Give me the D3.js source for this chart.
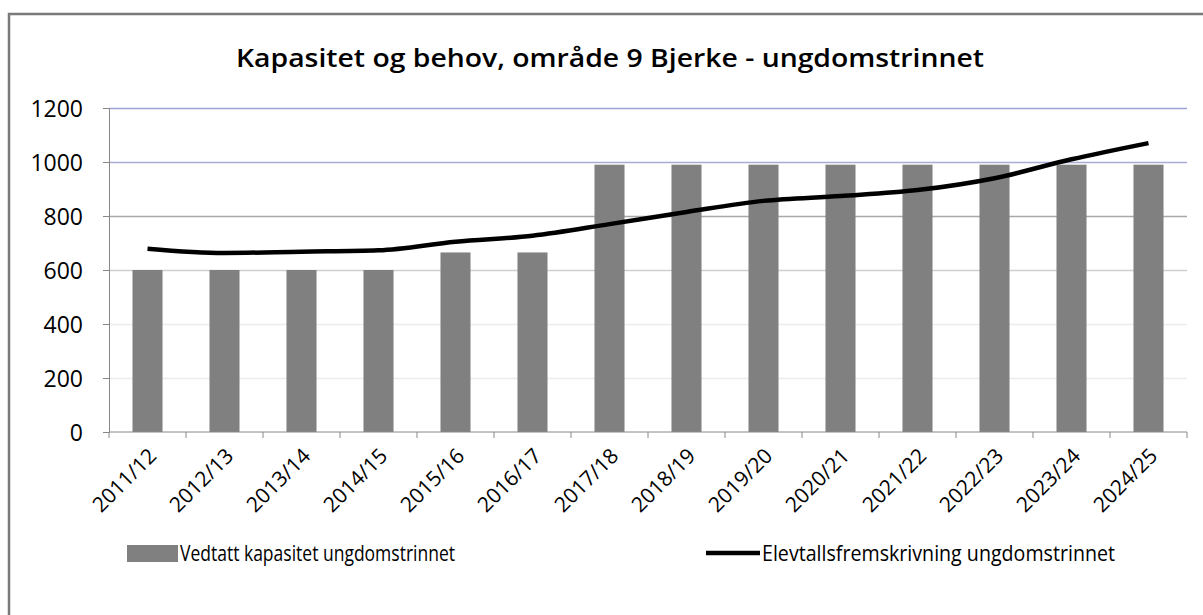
<!DOCTYPE html>
<html>
<head>
<meta charset="utf-8">
<script src="https://cdn.jsdelivr.net/npm/d3@7"></script>
<style>
  body { margin: 0; background: #fff; }
  text { font-family: "Open Sans", sans-serif; fill: #000; }
</style>
</head>
<body>
<svg id="chart"></svg>
<script>
const WIDTH = 1203;
const HEIGHT = 615;
const margin = {top: 108, right: 16, bottom: 183, left: 109};

const years = ['2011/12', '2012/13', '2013/14', '2014/15', '2015/16', '2016/17', '2017/18',
  '2018/19', '2019/20', '2020/21', '2021/22', '2022/23', '2023/24', '2024/25'];
const capacity = [600, 600, 600, 600, 665, 665, 990, 990, 990, 990, 990, 990, 990, 990];
const forecast = [679, 663, 668, 673, 705, 727, 770, 815, 856, 874, 896, 940, 1010, 1070];
const yTicks = [0, 200, 400, 600, 800, 1000, 1200];

const width = WIDTH - margin.left - margin.right;
const height = HEIGHT - margin.top - margin.bottom;

const svg = d3.select('#chart').attr('width', WIDTH).attr('height', HEIGHT);

// outer frame (right/bottom edges run off the picture)
svg.append('rect')
  .attr('x', 9).attr('y', 14)
  .attr('width', WIDTH + 10).attr('height', HEIGHT + 10)
  .attr('fill', '#fff').attr('stroke', '#7a7a7a').attr('stroke-width', 2.5);

svg.append('text')
  .attr('x', 610).attr('y', 67)
  .attr('text-anchor', 'middle')
  .style('font-size', '25px').style('font-weight', '600')
  .attr('textLength', 748).attr('lengthAdjust', 'spacingAndGlyphs')
  .text('Kapasitet og behov, område 9 Bjerke - ungdomstrinnet');

const g = svg.append('g').attr('transform', `translate(${margin.left},${margin.top})`);

const x = d3.scaleBand().domain(years).range([0, width]).paddingInner(0.61).paddingOuter(0.305);
const xBoundary = d3.scaleLinear().domain([0, years.length]).range([0, width]);
const y = d3.scaleLinear().domain([0, 1200]).range([height, 0]);

// gridlines
const gridColor = {1200: '#9da3d6', 1000: '#a8acd4', 800: '#a9a9a9', 600: '#cfcfcf', 400: '#ececec', 200: '#ececec'};
g.selectAll('.grid').data(yTicks.filter(d => d > 0)).enter()
  .append('line')
  .attr('x1', 0).attr('x2', width)
  .attr('y1', d => y(d) + 0.5).attr('y2', d => y(d) + 0.5)
  .attr('stroke', d => gridColor[d]).attr('stroke-width', 1.5);

// bars
g.selectAll('.bar').data(capacity).enter()
  .append('rect')
  .attr('x', (d, i) => x(years[i]))
  .attr('width', x.bandwidth())
  .attr('y', d => y(d))
  .attr('height', d => height - y(d))
  .attr('fill', '#808080');

// axes
const yAxis = d3.axisLeft(y).tickValues(yTicks).tickFormat(d3.format('d')).tickSize(6).tickPadding(20);
const yAxisEl = g.append('g').call(yAxis);
yAxisEl.select('.domain').attr('stroke', '#888');
yAxisEl.selectAll('.tick line').attr('stroke', '#888');
yAxisEl.selectAll('.tick text').style('font-size', '23px').attr('dy', '0.36em');

const xAxisEl = g.append('g').attr('transform', `translate(0,${height})`);
xAxisEl.append('line').attr('x1', 0).attr('x2', width).attr('stroke', '#888');
xAxisEl.selectAll('.xt').data(d3.range(years.length + 1)).enter()
  .append('line')
  .attr('x1', d => xBoundary(d)).attr('x2', d => xBoundary(d))
  .attr('y1', 0).attr('y2', 6).attr('stroke', '#888');
xAxisEl.selectAll('.xl').data(years).enter()
  .append('text')
  .attr('transform', d => `translate(${x(d) + x.bandwidth() / 2 + 5},${20}) rotate(-45)`)
  .attr('text-anchor', 'end')
  .attr('dy', '0.35em')
  .style('font-size', '21px')
  .text(d => d);

// forecast line
const line = d3.line()
  .x((d, i) => x(years[i]) + x.bandwidth() / 2)
  .y(d => y(d))
  .curve(d3.curveMonotoneX);
g.append('path').datum(forecast)
  .attr('d', line)
  .attr('fill', 'none').attr('stroke', '#000').attr('stroke-width', 4.5);

// legend
const legend = svg.append('g');
legend.append('rect').attr('x', 127).attr('y', 545).attr('width', 51).attr('height', 17).attr('fill', '#808080');
legend.append('text').attr('x', 180).attr('y', 561).style('font-size', '22px')
  .attr('textLength', 275).attr('lengthAdjust', 'spacingAndGlyphs')
  .text('Vedtatt kapasitet ungdomstrinnet');
legend.append('line').attr('x1', 706).attr('x2', 760).attr('y1', 553).attr('y2', 553)
  .attr('stroke', '#000').attr('stroke-width', 4.5);
legend.append('text').attr('x', 762).attr('y', 561).style('font-size', '22px')
  .attr('textLength', 353).attr('lengthAdjust', 'spacingAndGlyphs')
  .text('Elevtallsfremskrivning ungdomstrinnet');
</script>
</body>
</html>
